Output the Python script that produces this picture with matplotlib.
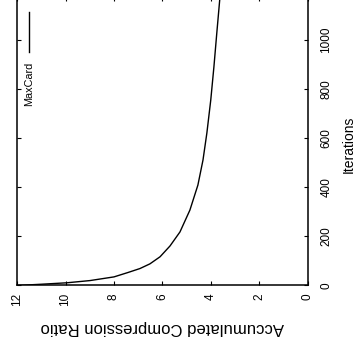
import matplotlib
matplotlib.use("Agg")
import matplotlib.pyplot as plt

# values (rotated gnuplot chart)
iterations = [0, 5, 11, 20, 35, 53, 69, 88, 117, 161, 218, 307, 409, 511, 621, 755, 890, 1029, 1175]
ratio = [12.0, 11.01, 9.94, 8.99, 8.0, 7.42, 6.93, 6.52, 6.10, 5.69, 5.28, 4.87, 4.54, 4.33, 4.17, 4.01, 3.88, 3.76, 3.63]
ratio_ticks = [0, 2, 4, 6, 8, 10, 12]
iter_ticks = [0, 200, 400, 600, 800, 1000]
series_name = "MaxCard"

font = ["Liberation Sans", "DejaVu Sans"]

fig = plt.figure(figsize=(3.58, 3.46), dpi=100)
ax = fig.add_axes([0.0475, 0.1749, 0.8128, 0.8338])

# the whole plot is turned on its side: ratio runs right->left, iterations bottom->top
ax.plot(ratio, iterations, color="black", lw=1.0)
ax.set_xlim(12, 0)
ax.set_ylim(0, 1175)

ax.set_xticks(ratio_ticks)
ax.set_yticks(iter_ticks)
ax.yaxis.tick_right()
ax.tick_params(axis="both", direction="in", length=3, width=0.8,
               top=True, bottom=True, left=True, right=True)
ax.tick_params(axis="x", pad=5.5, labelbottom=True, labeltop=False)
ax.tick_params(axis="y", pad=9, labelright=True, labelleft=False)

for lab in ax.get_xticklabels() + ax.get_yticklabels():
    lab.set_rotation(90)
    lab.set_family(font)
    lab.set_fontsize(8.5)
for lab in ax.get_xticklabels():
    lab.set_va("top")
for lab in ax.get_yticklabels():
    lab.set_va("center")

for s in ax.spines.values():
    s.set_linewidth(1.1)

ax.set_xlabel("Accumulated Compression Ratio", rotation=180, family=font,
              fontsize=12, va="center")
ax.xaxis.set_label_coords(0.5, -0.147)
ax.yaxis.set_label_position("right")
ax.set_ylabel("Iterations", rotation=90, family=font, fontsize=10, va="center")
ax.yaxis.set_label_coords(1.14, 0.49)

# key, turned with the plot
ax.text(0.041, 0.775, series_name, rotation=90, ha="center", va="top",
        family=font, fontsize=7.8, transform=ax.transAxes)
ax.plot([0.041, 0.041], [0.809, 0.948], color="black", lw=1.0,
        transform=ax.transAxes)

fig.savefig("out.png", dpi=100)
